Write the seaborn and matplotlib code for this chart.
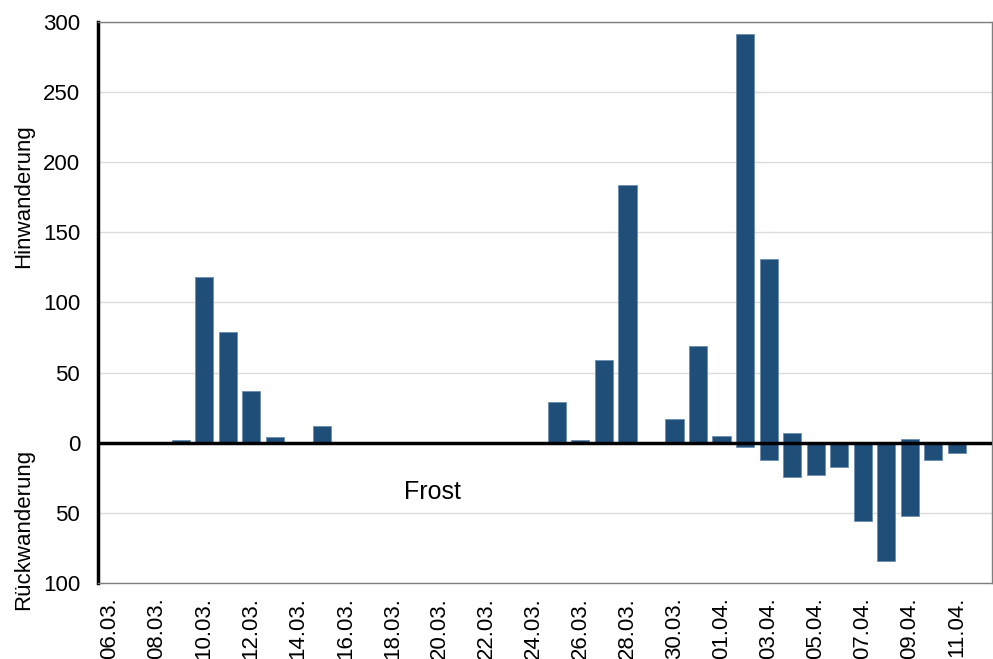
import pandas as pd
import matplotlib
matplotlib.use("Agg")
import matplotlib.pyplot as plt
import seaborn as sns

# Tage 06.03. bis 12.04.
dates = ["06.03.", "07.03.", "08.03.", "09.03.", "10.03.", "11.03.", "12.03.", "13.03.",
         "14.03.", "15.03.", "16.03.", "17.03.", "18.03.", "19.03.", "20.03.", "21.03.",
         "22.03.", "23.03.", "24.03.", "25.03.", "26.03.", "27.03.", "28.03.", "29.03.",
         "30.03.", "31.03.", "01.04.", "02.04.", "03.04.", "04.04.", "05.04.", "06.04.",
         "07.04.", "08.04.", "09.04.", "10.04.", "11.04.", "12.04."]

# Hinwanderung (positiv)
hin = [0, 0, 0, 2, 118, 79, 37, 4, 0, 12, 0, 0, 0, 0, 0, 0, 0, 0, 0, 29, 2, 59, 184, 0,
       17, 69, 5, 291, 131, 7, 0, 0, 0, 0, 3, 0, 0, 0]

# Rückwanderung (als negative Werte)
rueck = [0, 0, 0, 0, 0, 0, 0, 0, 0, 0, 0, 0, 0, 0, 0, 0, 0, 0, 0, 0, 0, 0, 0, 0,
         0, 0, 0, -3, -12, -24, -23, -17, -56, -84, -52, -12, -7, 0]

bar_color = "#1f4e79"

df = pd.DataFrame({"datum": dates, "hin": hin, "rueck": rueck})

sns.set_style("white")
plt.rcParams["font.family"] = ["Liberation Sans", "DejaVu Sans"]
plt.rcParams["text.color"] = "black"
plt.rcParams["xtick.color"] = "black"
plt.rcParams["ytick.color"] = "black"

fig = plt.figure(figsize=(9.93, 6.59), dpi=100)
ax = fig.add_axes([0.099, 0.115, 0.900, 0.852])

for col in ["hin", "rueck"]:
    sns.barplot(data=df, x="datum", y=col, order=dates, color=bar_color, saturation=1,
                width=0.77, errorbar=None, edgecolor="#6d8fb0", linewidth=0.6, ax=ax)

ax.set_xlim(-0.5, len(dates) - 0.5)
ax.set_ylim(-100, 300)

# Gitter und Nulllinie
ax.set_yticks(range(-100, 301, 50))
ax.set_yticklabels([str(abs(v)) for v in range(-100, 301, 50)], fontsize=16)
ax.yaxis.grid(True, color="#dcdcdc", linewidth=1)
ax.set_axisbelow(True)
ax.axhline(0, color="black", linewidth=2.5, zorder=5)

ax.set_xticks(range(0, len(dates), 2))
ax.set_xticklabels(dates[::2], rotation=90, fontsize=16)
ax.tick_params(axis="y", length=0, pad=13)
ax.tick_params(axis="x", length=0, pad=10)

ax.set_xlabel("")
ax.set_ylabel("")

for s in ["top", "right", "bottom"]:
    ax.spines[s].set_color("#7f7f7f")
    ax.spines[s].set_linewidth(1)
ax.spines["left"].set_color("black")
ax.spines["left"].set_linewidth(2.5)

# Achsenbeschriftungen
fig.text(0.024, 0.703, "Hinwanderung", rotation=90, ha="center", va="center", fontsize=16)
fig.text(0.024, 0.196, "Rückwanderung", rotation=90, ha="center", va="center", fontsize=16)

ax.text(13.7, -35, "Frost", ha="center", va="center", fontsize=18)

fig.savefig("out.png", dpi=100)
